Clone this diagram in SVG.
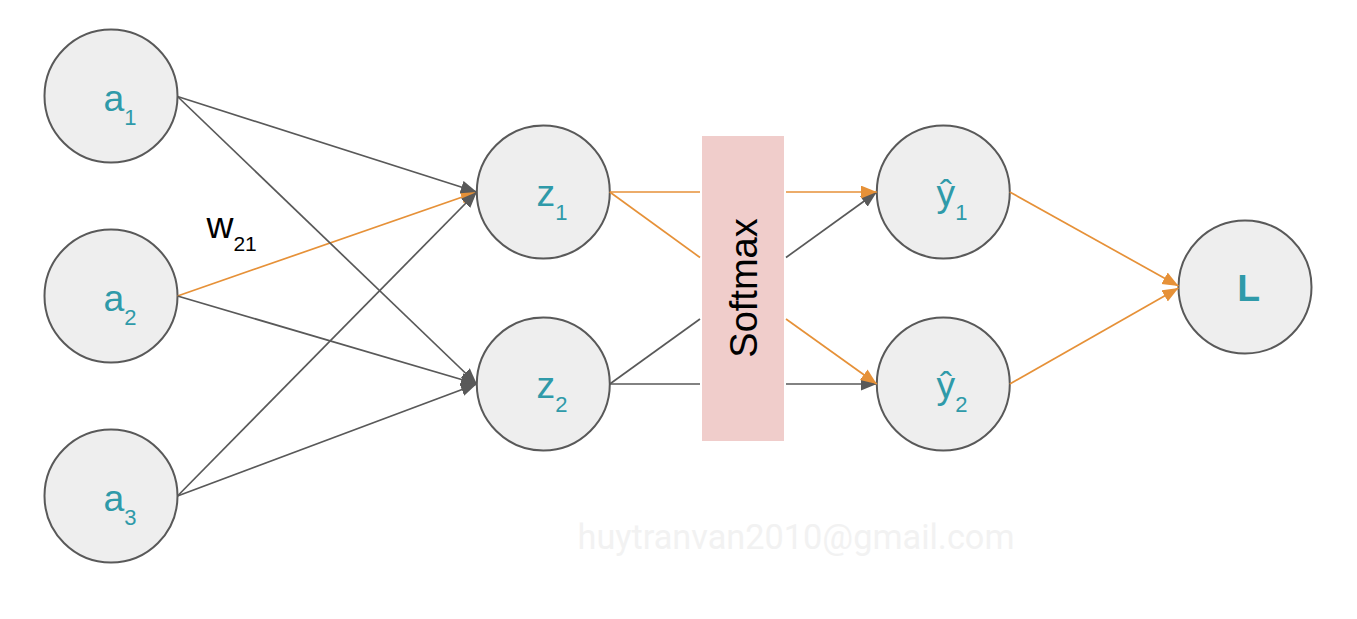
<svg xmlns="http://www.w3.org/2000/svg" width="1357" height="619" viewBox="0 0 1357 619">
<style>
.node{fill:#eeeeee;stroke:#595959;stroke-width:2}
.lbl{font-family:"Liberation Sans",Arial,sans-serif;font-size:37.3px;fill:#2f9aa9}
.sub{font-size:22px}
.g{stroke:#595959;stroke-width:1.7;fill:none}
.o{stroke:#e69138;stroke-width:1.7;fill:none}
.ga{marker-end:url(#ag)}
.oa{marker-end:url(#ao)}
</style>
<defs>
<marker id="ag" markerUnits="userSpaceOnUse" markerWidth="18" markerHeight="14" refX="16" refY="6.5" orient="auto"><path d="M0,0 L16,6.5 L0,13 z" fill="#595959"/></marker>
<marker id="ao" markerUnits="userSpaceOnUse" markerWidth="18" markerHeight="14" refX="16" refY="6.5" orient="auto"><path d="M0,0 L16,6.5 L0,13 z" fill="#e69138"/></marker>
</defs>
<rect width="1357" height="619" fill="#ffffff"/>
<text x="796" y="549" text-anchor="middle" font-family="Roboto,'Liberation Sans',sans-serif" font-size="34.3" fill="#f2f2f2">huytranvan2010@gmail.com</text>
<g id="softmax">
<rect x="702" y="136" width="82" height="305" fill="#f0cdcb"/>
<text x="743" y="302" transform="rotate(-90 743 288)" text-anchor="middle" font-family="'Liberation Sans',Arial,sans-serif" font-size="38" fill="#000000">Softmax</text>
</g>
<g id="a1"><circle class="node" cx="111" cy="96" r="66.5"/><text class="lbl" x="103.6" y="111">a<tspan class="sub" dy="14">1</tspan></text></g>
<g id="a2"><circle class="node" cx="111" cy="296" r="66.5"/><text class="lbl" x="103.6" y="311">a<tspan class="sub" dy="14">2</tspan></text></g>
<g id="a3"><circle class="node" cx="111" cy="496" r="66.5"/><text class="lbl" x="103.6" y="511">a<tspan class="sub" dy="14">3</tspan></text></g>
<g id="z1"><circle class="node" cx="543.3" cy="192" r="66.5"/><text class="lbl" x="536.5" y="206">z<tspan class="sub" dy="14">1</tspan></text></g>
<g id="z2"><circle class="node" cx="543.3" cy="384" r="66.5"/><text class="lbl" x="536.5" y="398">z<tspan class="sub" dy="14">2</tspan></text></g>
<g id="y1"><circle class="node" cx="943.3" cy="192" r="66.5"/><text class="lbl" x="936.5" y="206">ŷ<tspan class="sub" dy="14">1</tspan></text></g>
<g id="y2"><circle class="node" cx="943.3" cy="384" r="66.5"/><text class="lbl" x="936.5" y="398">ŷ<tspan class="sub" dy="14">2</tspan></text></g>
<g id="L"><circle class="node" cx="1245" cy="287" r="66.5"/><text class="lbl" x="1237.3" y="301" font-weight="bold">L</text></g>
<g id="w21label"><text x="206.5" y="238.3" font-family="'Liberation Sans',Arial,sans-serif" font-size="37.3" fill="#000000">w<tspan font-size="21" dy="12.7">21</tspan></text></g>
<g id="connectors">
<line class="o oa" x1="177.5" y1="296" x2="476.8" y2="192"/>
<line class="g ga" x1="177.5" y1="96.5" x2="476.8" y2="192"/>
<line class="g ga" x1="177.5" y1="96.5" x2="476.8" y2="384"/>
<line class="g ga" x1="177.5" y1="296" x2="476.8" y2="384"/>
<line class="g ga" x1="177.5" y1="496" x2="476.8" y2="192"/>
<line class="g ga" x1="177.5" y1="496" x2="476.8" y2="384"/>
<line class="o" x1="609.8" y1="192" x2="700" y2="192"/>
<line class="o" x1="609.8" y1="192" x2="700" y2="257.5"/>
<line class="g" x1="609.8" y1="384" x2="700" y2="319"/>
<line class="g" x1="609.8" y1="384" x2="700" y2="384"/>
<line class="g ga" x1="786" y1="257.5" x2="876.8" y2="192"/>
<line class="o oa" x1="786" y1="192" x2="876.8" y2="192"/>
<line class="g ga" x1="786" y1="384" x2="876.8" y2="384"/>
<line class="o oa" x1="786" y1="319" x2="876.8" y2="384"/>
<line class="o oa" x1="1009.8" y1="192" x2="1178.5" y2="286"/>
<line class="o oa" x1="1009.8" y1="384" x2="1178.5" y2="288"/>
</g>
</svg>
